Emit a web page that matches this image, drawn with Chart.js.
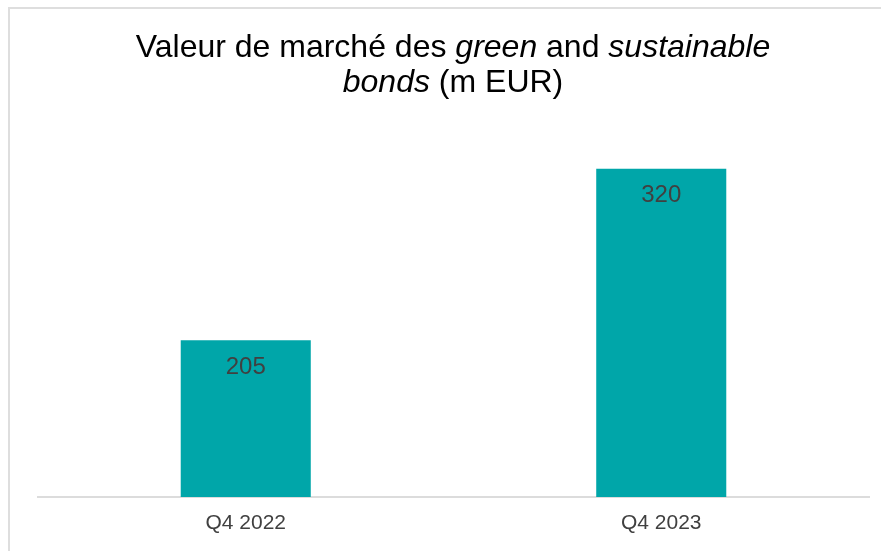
<!DOCTYPE html>
<html>
<head>
<meta charset="utf-8">
<script src="https://cdn.jsdelivr.net/npm/chart.js@4"></script>
<style>
  html, body { margin: 0; padding: 0; background: #ffffff; }
  #wrap { position: relative; width: 881px; height: 551px; overflow: hidden; background: #fff; }
  #frame { position: absolute; left: 8px; top: 7px; right: -4px; bottom: -4px;
           border-left: 2px solid #dedede; border-top: 2px solid #dedede; }
  #title { position: absolute; left: 53px; top: 29px; width: 800px; text-align: center;
           font-family: "Liberation Sans", Arial, sans-serif; font-size: 32px; line-height: 35px;
           color: #000; }
  canvas { position: absolute; left: 0; top: 0; }
</style>
</head>
<body>
<div id="wrap">
  <div id="frame"></div>
  <canvas id="c" width="881" height="551"></canvas>
  <div id="title">Valeur de marché des <i>green</i> and <i>sustainable</i><br><i>bonds</i> (m EUR)</div>
</div>
<script>
const categories = ["Q4 2022", "Q4 2023"];
const marketValues = [205, 320];

const valueLabels = {
  id: 'valueLabels',
  afterDatasetsDraw(chart) {
    const ctx = chart.ctx;
    const meta = chart.getDatasetMeta(0);
    ctx.save();
    ctx.font = '24px "Liberation Sans", Arial, sans-serif';
    ctx.fillStyle = '#404040';
    ctx.textAlign = 'center';
    ctx.textBaseline = 'middle';
    meta.data.forEach((bar, i) => {
      ctx.fillText(String(chart.data.datasets[0].data[i]), bar.x, bar.y + 27);
    });
    ctx.restore();
  }
};

new Chart(document.getElementById('c'), {
  type: 'bar',
  data: {
    labels: categories,
    datasets: [{
      data: marketValues,
      backgroundColor: '#00A6A9',
      borderWidth: 0,
      categoryPercentage: 1.0,
      barPercentage: 0.313
    }]
  },
  options: {
    responsive: false,
    animation: false,
    devicePixelRatio: 1,
    layout: { padding: { left: 38, right: 12, top: 124, bottom: 0 } },
    plugins: { legend: { display: false }, title: { display: false }, tooltip: { enabled: false } },
    scales: {
      x: {
        grid: { display: false, drawTicks: false },
        border: { display: true, color: '#dcdcdc', width: 2 },
        ticks: { color: '#404040', padding: 14, font: { family: '"Liberation Sans", Arial, sans-serif', size: 21 } },
        afterFit(scale) { scale.height = 54; }
      },
      y: {
        display: false,
        min: 100,
        max: 350
      }
    }
  },
  plugins: [valueLabels]
});
</script>
</body>
</html>
